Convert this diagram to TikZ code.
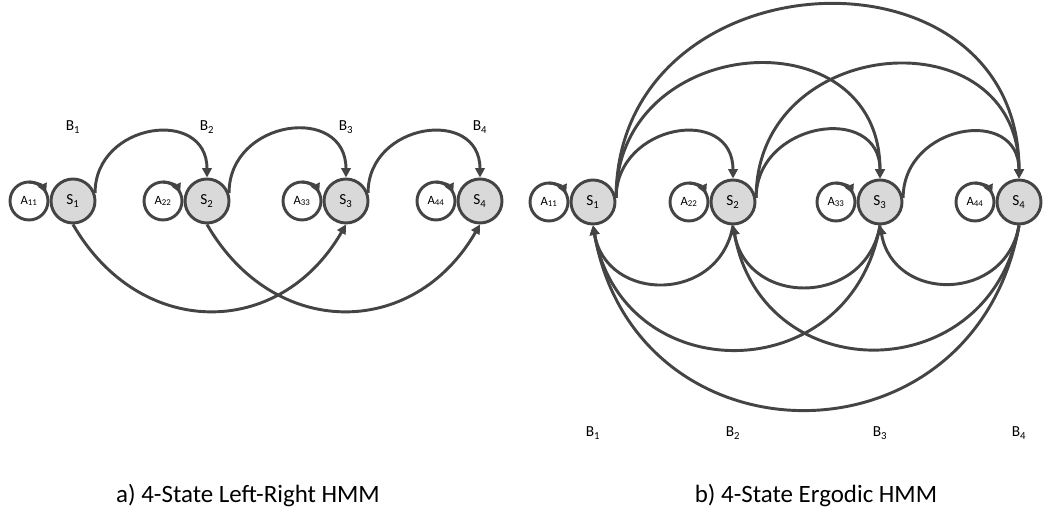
\documentclass[tikz,border=0pt]{standalone}
\usepackage{fontspec}
\newfontfamily\capfont{Carlito}
\usepackage{tikz}
\usetikzlibrary{arrows.meta,positioning,calc}
\definecolor{hline}{HTML}{444444}
\definecolor{hfill}{HTML}{D9D9D9}
\tikzset{
  hstate/.style={circle, draw=hline, fill=hfill, line width=2.2pt, minimum size=33pt,
    inner sep=0pt, font=\capfont\fontsize{11.5}{12}\selectfont},
  loopnode/.style={circle, draw=hline, fill=white, line width=2.2pt, minimum size=28.5pt,
    inner sep=0pt, outer sep=0pt, font=\capfont\fontsize{9.5}{10}\selectfont},
  trans/.style={draw=hline, line width=2.2pt, -{Triangle[length=7pt,width=7pt]}},
  obs/.style={font=\capfont\fontsize{11.5}{12}\selectfont},
  subcap/.style={font=\capfont\fontsize{18.7}{22}\selectfont},
}

\begin{document}
\begin{tikzpicture}[x=0.75pt, y=0.75pt]
\useasboundingbox (0,0) rectangle (1046,514);
% a) left-right model
\node[loopnode] (la1) at (29,313) {A\textsubscript{11}};
\node[loopnode] (la2) at (163,313) {A\textsubscript{22}};
\node[loopnode] (la3) at (302,313) {A\textsubscript{33}};
\node[loopnode] (la4) at (436,313) {A\textsubscript{44}};
\node[hstate] (ls1) at (73,313) {S\textsubscript{1}};
\node[hstate] (ls2) at (207,313) {S\textsubscript{2}};
\node[hstate] (ls3) at (346,313) {S\textsubscript{3}};
\node[hstate] (ls4) at (480,313) {S\textsubscript{4}};
\node[obs] (lb1) at (73,387) {B\textsubscript{1}};
\node[obs] (lb2) at (207,387) {B\textsubscript{2}};
\node[obs] (lb3) at (346,387) {B\textsubscript{3}};
\node[obs] (lb4) at (480,387) {B\textsubscript{4}};
\draw[trans] (la1.north) arc[start angle=90, end angle=25, radius=14.25pt];
\draw[trans] (la2.north) arc[start angle=90, end angle=25, radius=14.25pt];
\draw[trans] (la3.north) arc[start angle=90, end angle=25, radius=14.25pt];
\draw[trans] (la4.north) arc[start angle=90, end angle=25, radius=14.25pt];
\draw[trans] (ls1.20) to[out=90, in=90, looseness=1.6] (ls2.north);
\draw[trans] (ls2.20) to[out=90, in=90, looseness=1.6] (ls3.north);
\draw[trans] (ls3.20) to[out=90, in=90, looseness=1.6] (ls4.north);
\draw[trans] (ls1.south) to[out=-60, in=-120, looseness=1.25] (ls3.south);
\draw[trans] (ls2.south) to[out=-60, in=-120, looseness=1.25] (ls4.south);
\node[subcap] (capa) at (248,18) {a) 4-State Left-Right HMM};
% b) ergodic model
\node[loopnode] (ra1) at (549,312) {A\textsubscript{11}};
\node[loopnode] (ra2) at (689,312) {A\textsubscript{22}};
\node[loopnode] (ra3) at (836,312) {A\textsubscript{33}};
\node[loopnode] (ra4) at (975,312) {A\textsubscript{44}};
\node[hstate] (rs1) at (593,312) {S\textsubscript{1}};
\node[hstate] (rs2) at (733,312) {S\textsubscript{2}};
\node[hstate] (rs3) at (880,312) {S\textsubscript{3}};
\node[hstate] (rs4) at (1019,312) {S\textsubscript{4}};
\node[obs] (rb1) at (593,81) {B\textsubscript{1}};
\node[obs] (rb2) at (733,81) {B\textsubscript{2}};
\node[obs] (rb3) at (880,81) {B\textsubscript{3}};
\node[obs] (rb4) at (1019,81) {B\textsubscript{4}};
\draw[trans] (ra1.north) arc[start angle=90, end angle=25, radius=14.25pt];
\draw[trans] (ra2.north) arc[start angle=90, end angle=25, radius=14.25pt];
\draw[trans] (ra3.north) arc[start angle=90, end angle=25, radius=14.25pt];
\draw[trans] (ra4.north) arc[start angle=90, end angle=25, radius=14.25pt];
\draw[trans] (rs1.10) to[out=90, in=90, looseness=1.6] (rs2.north);
\draw[trans] (rs1.10) to[out=90, in=90, looseness=1.6] (rs3.north);
\draw[trans] (rs1.10) to[out=90, in=90, looseness=1.55] (rs4.north);
\draw[trans] (rs2.10) to[out=90, in=90, looseness=1.55] (rs3.north);
\draw[trans] (rs2.10) to[out=90, in=90, looseness=1.6] (rs4.north);
\draw[trans] (rs3.10) to[out=90, in=90, looseness=1.6] (rs4.north);
\draw[trans] (rs2.south) to[out=-100, in=-80, looseness=1.45] (rs1.south);
\draw[trans] (rs3.south) to[out=-100, in=-80, looseness=1.45] (rs2.south);
\draw[trans] (rs4.south) to[out=-100, in=-80, looseness=1.45] (rs3.south);
\draw[trans] (rs3.south) to[out=-100, in=-80, looseness=1.5] (rs1.south);
\draw[trans] (rs4.south) to[out=-100, in=-80, looseness=1.5] (rs2.south);
\draw[trans] (rs4.south) to[out=-100, in=-80, looseness=1.5] (rs1.south);
\node[subcap] (capb) at (816,18) {b) 4-State Ergodic HMM};
\end{tikzpicture}
\end{document}
